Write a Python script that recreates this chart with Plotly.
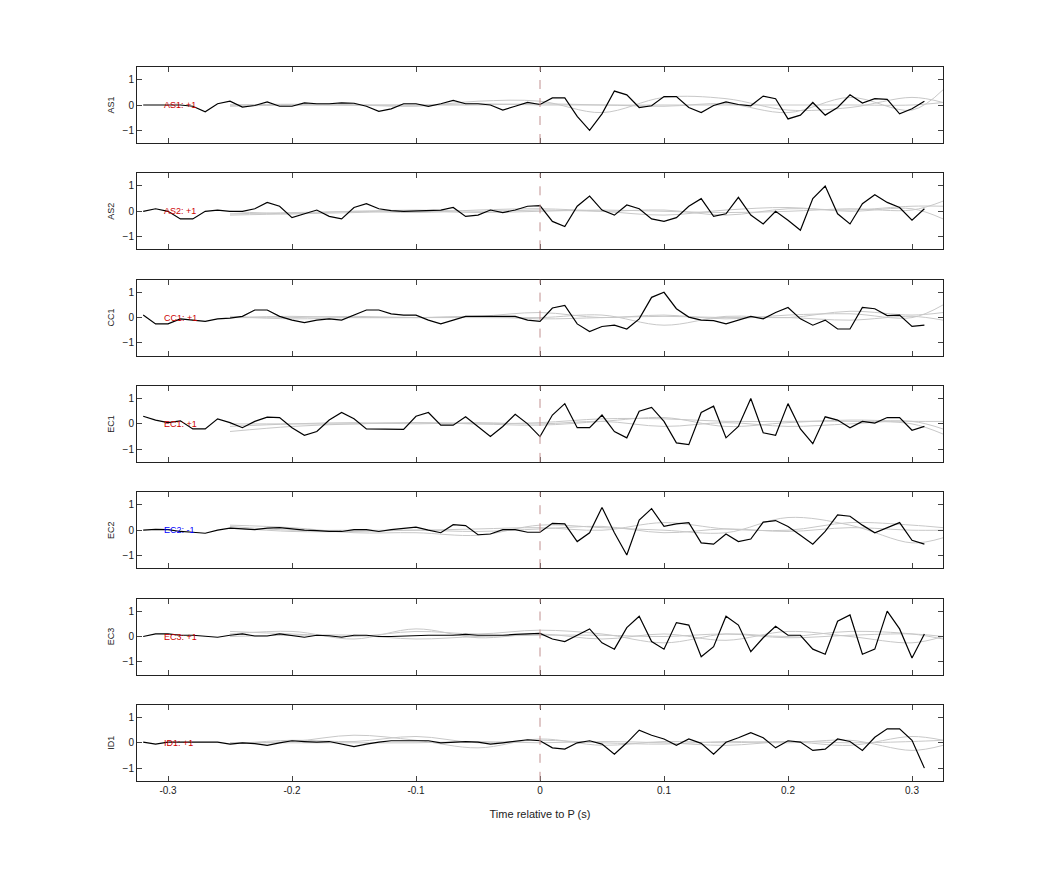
import numpy as np
import plotly.graph_objects as go

channels = ["AS1", "AS2", "CC1", "EC1", "EC2", "EC3", "ID1"]
polarity = ["+1", "+1", "+1", "+1", "-1", "+1", "+1"]
t0, dt = -0.32, 0.01

as1 = [0, 0, 0, 0, -0.05, -0.27, 0.05, 0.15, -0.08, -0.02, 0.12, -0.05, -0.05, 0.08, 0.05, 0.05,
       0.08, 0.07, -0.05, -0.25, -0.15, 0.05, 0.05, -0.05, 0.05, 0.18, 0.05, 0.05, 0, -0.2, -0.05, 0.1,
       0.02, 0.28, 0.28, -0.45, -1.0, -0.35, 0.55, 0.4, -0.1, -0.03, 0.33, 0.33, -0.1, -0.3, -0.02, 0.12,
       0.02, -0.03, 0.35, 0.25, -0.55, -0.4, 0.1, -0.4, -0.1, 0.4, 0.08, 0.25, 0.22, -0.35, -0.15, 0.15]
as2 = [0, 0.1, 0.0, -0.3, -0.3, 0, 0.05, 0, 0, 0.1, 0.35, 0.2, -0.25, -0.1, 0.05, -0.2,
       -0.3, 0.15, 0.3, 0.1, 0.03, 0, 0.02, 0.02, 0.05, 0.15, -0.2, -0.15, 0.05, -0.05, 0.05, 0.2,
       0.22, -0.4, -0.6, 0.2, 0.6, 0.05, -0.15, 0.25, 0.1, -0.3, -0.4, -0.25, 0.2, 0.5, -0.2, -0.1,
       0.55, -0.15, -0.5, 0, -0.35, -0.75, 0.5, 1.0, -0.1, -0.5, 0.3, 0.65, 0.35, 0.15, -0.35, 0.1]
cc1 = [0.1, -0.25, -0.25, -0.05, -0.1, -0.15, -0.05, -0.02, 0.05, 0.3, 0.3, 0.05, -0.1, -0.2, -0.1, -0.05,
       -0.1, 0.1, 0.3, 0.3, 0.15, 0.1, 0.1, -0.1, -0.25, -0.1, 0.05, 0.05, 0.05, 0.07, 0.05, -0.1,
       -0.15, 0.38, 0.48, -0.25, -0.55, -0.35, -0.3, -0.45, -0.05, 0.8, 1.0, 0.35, 0.02, -0.1, -0.12, -0.25,
       -0.1, 0.05, -0.05, 0.2, 0.4, -0.05, -0.3, -0.1, -0.45, -0.45, 0.4, 0.35, 0.08, 0.1, -0.35, -0.3]
ec1 = [0.3, 0.15, 0.05, 0.12, -0.2, -0.2, 0.2, 0.05, -0.15, 0.1, 0.27, 0.25, -0.15, -0.45, -0.3, 0.15,
       0.45, 0.2, -0.2, -0.2, -0.2, -0.22, 0.3, 0.45, -0.05, -0.05, 0.28, -0.1, -0.5, -0.1, 0.38, 0,
       -0.5, 0.35, 0.8, -0.15, -0.15, 0.35, -0.3, -0.55, 0.5, 0.65, 0.1, -0.75, -0.82, 0.45, 0.7, -0.55,
       -0.1, 1.0, -0.35, -0.45, 0.8, -0.2, -0.78, 0.28, 0.15, -0.15, 0.1, 0.03, 0.25, 0.25, -0.25, -0.1]
ec2 = [0, 0.03, 0.02, -0.05, -0.08, -0.12, 0, 0.08, 0.05, 0.02, 0.08, 0.1, 0.05, 0, -0.02, -0.05,
       -0.05, 0.02, 0.02, -0.05, 0.02, 0.08, 0.12, 0, -0.1, 0.22, 0.18, -0.18, -0.15, 0.02, 0.02, -0.08,
       -0.08, 0.27, 0.25, -0.45, -0.1, 0.9, -0.1, -0.98, 0.4, 0.85, 0.15, 0.25, 0.3, -0.5, -0.55, -0.15,
       -0.45, -0.35, 0.32, 0.38, 0.15, -0.2, -0.55, -0.05, 0.6, 0.55, 0.2, -0.1, 0.1, 0.3, -0.4, -0.55]
ec3 = [0, 0.1, 0.1, 0.05, 0.05, 0.02, -0.03, 0.05, 0.1, 0.02, 0.02, 0.1, 0.03, -0.03, 0.05, 0.03,
       -0.03, 0.05, 0.05, 0, 0, 0.02, 0.05, 0.05, 0.05, 0.05, 0.08, 0.05, 0.05, 0.05, 0.08, 0.1,
       0.12, -0.1, -0.2, 0.05, 0.3, -0.25, -0.5, 0.35, 0.8, -0.2, -0.5, 0.55, 0.45, -0.8, -0.4, 0.8,
       0.45, -0.6, -0.05, 0.4, 0.05, 0.05, -0.5, -0.7, 0.6, 0.85, -0.7, -0.5, 1.0, 0.3, -0.85, 0.1]
id1 = [0.03, -0.05, 0.03, 0.03, 0.03, 0.03, 0.03, -0.05, 0, -0.03, -0.1, 0, 0.08, 0.05, 0.03, 0.05,
       -0.05, -0.15, -0.05, 0.03, 0.08, 0.08, 0.08, 0.08, 0, 0.03, 0.05, 0.03, -0.05, 0, 0.05, 0.12,
       0.08, -0.2, -0.25, 0, 0.08, -0.05, -0.45, 0, 0.5, 0.3, 0.15, -0.1, 0.15, -0.02, -0.45, 0.02,
       0.2, 0.4, 0.2, -0.2, 0.08, 0.03, -0.3, -0.25, 0.15, 0.05, -0.3, 0.22, 0.55, 0.55, 0.1, -1.0]
black = [as1, as2, cc1, ec1, ec2, ec3, id1]

# smooth grey curves (knots every 0.05 s)
knots = [-0.25, -0.2, -0.15, -0.1, -0.05, 0, 0.05, 0.1, 0.15, 0.2, 0.25, 0.3, 0.325]
grey = [
    [[0, 0, 0, 0, 0, 0.05, 0, 0, 0, 0, 0, 0, 0.1],
     [-0.05, 0, 0, -0.05, 0.15, 0.15, -0.3, 0.3, 0.25, -0.2, -0.1, 0.3, 0.1],
     [0, 0.03, 0, 0, 0.05, 0, 0, -0.05, 0.05, -0.3, 0.3, -0.2, 0.6]],
    [[-0.1, -0.05, 0, 0.05, 0, 0.05, 0, 0.05, -0.15, 0.1, 0.05, 0.2, 0.2],
     [0, -0.1, 0, -0.05, 0.05, 0.1, 0, -0.15, 0.05, 0.15, 0, 0.1, -0.3],
     [-0.15, -0.1, -0.05, 0, -0.05, 0, 0.05, 0, -0.05, 0, 0.1, 0.05, 0.4]],
    [[0, 0.05, 0, 0, 0.05, 0.2, 0, 0.1, -0.05, 0.1, 0.15, 0, 0.5],
     [0.05, -0.05, 0, 0, 0, 0, 0.1, -0.3, 0.05, 0, 0.25, 0.1, 0.2],
     [0, 0, 0.05, 0, 0.05, -0.05, 0, 0.05, 0, 0, -0.1, 0.05, -0.1]],
    [[-0.3, -0.1, 0, 0.05, 0, 0.05, 0.2, 0.2, 0.1, 0.1, 0.1, 0, -0.4],
     [-0.1, 0, 0.05, 0, 0.05, 0, 0.1, -0.1, 0.05, -0.1, 0, 0.1, -0.2],
     [0, 0, 0, 0.05, 0, -0.05, 0.1, 0.25, -0.1, 0.05, 0.15, 0.1, 0.1]],
    [[0.2, 0.1, -0.1, -0.1, -0.2, 0.2, 0.1, 0, -0.1, 0.5, 0.2, -0.5, -0.3],
     [0.15, 0, 0, 0, 0.05, 0.1, 0, 0.3, 0.05, 0, 0.3, 0.2, 0.1],
     [0.1, -0.05, -0.05, 0, -0.05, 0.05, 0.15, -0.1, 0.05, -0.05, 0.1, 0, 0]],
    [[0.2, 0.1, 0, 0.2, 0.1, 0.25, 0.1, -0.25, 0.1, 0, 0.2, 0.1, -0.1],
     [0.1, 0.2, -0.1, 0.3, -0.05, 0.1, -0.1, 0.1, -0.15, 0.2, 0, -0.25, 0],
     [0, 0.05, 0.05, -0.1, 0, 0.05, 0.05, 0, 0.1, -0.05, 0.05, 0.1, 0]],
    [[0, 0.05, 0.3, 0.1, -0.2, 0.15, -0.1, 0.05, 0, 0.05, -0.1, 0.25, 0.1],
     [-0.05, 0.1, 0.05, 0.25, 0, 0.1, 0, -0.05, 0.05, 0, 0.1, -0.3, -0.1],
     [0, 0, 0, 0, 0.05, 0, 0.05, 0, -0.1, 0.05, 0, 0.05, 0.1]],
]

W, H = 1042, 875
left, right = 129 / W, 935 / W
fig = go.Figure()
layout = {}
for i, ch in enumerate(channels):
    n = i + 1
    xa = "x" if n == 1 else f"x{n}"
    ya = "y" if n == 1 else f"y{n}"
    top = 59 + 106.3 * i
    dom = [1 - (top + 76) / H, 1 - top / H]
    for g in grey[i]:
        fig.add_trace(go.Scatter(x=knots, y=g, mode="lines", xaxis=xa, yaxis=ya,
                                 line=dict(color="#c8c8c8", width=1, shape="spline"),
                                 showlegend=False, hoverinfo="skip"))
    vals = black[i]
    t = [round(t0 + dt * k, 3) for k in range(len(vals))]
    fig.add_trace(go.Scatter(x=t, y=vals, mode="lines", xaxis=xa, yaxis=ya,
                             line=dict(color="black", width=1.2), showlegend=False))
    fig.add_annotation(x=-0.305, y=0, xref=xa, yref=ya, text=f"{ch}: {polarity[i]}",
                       showarrow=False, xanchor="left",
                       font=dict(size=9, color="blue" if polarity[i] == "-1" else "#cc0000"))
    fig.add_shape(type="line", x0=0, x1=0, y0=-1.5, y1=1.5, xref=xa, yref=ya,
                  line=dict(color="#c09090", width=1, dash="dash"))
    last = n == len(channels)
    layout["xaxis" if n == 1 else f"xaxis{n}"] = dict(
        domain=[left, right], anchor=ya, range=[-0.325, 0.325],
        tickvals=[-0.3, -0.2, -0.1, 0, 0.1, 0.2, 0.3],
        ticktext=["-0.3", "-0.2", "-0.1", "0", "0.1", "0.2", "0.3"],
        showticklabels=last, ticks="inside", ticklen=5, mirror="ticks",
        showline=True, linecolor="#222", linewidth=1, showgrid=False, zeroline=False,
        tickfont=dict(size=10, color="#222"),
        title=dict(text="Time relative to P (s)", font=dict(size=11, color="#222")) if last else None)
    layout["yaxis" if n == 1 else f"yaxis{n}"] = dict(
        domain=dom, anchor=xa, range=[-1.5, 1.5], tickvals=[-1, 0, 1],
        ticks="inside", ticklen=5, mirror="ticks", showline=True, linecolor="#222",
        linewidth=1, showgrid=False, zeroline=False, tickfont=dict(size=10, color="#222"),
        title=dict(text=ch, font=dict(size=9, color="#222"), standoff=6))

fig.update_layout(width=W, height=H, margin=dict(l=0, r=0, t=0, b=0),
                  plot_bgcolor="white", paper_bgcolor="white",
                  font=dict(family="Liberation Sans, Arial, sans-serif"), **layout)
fig.write_html("out.html")
